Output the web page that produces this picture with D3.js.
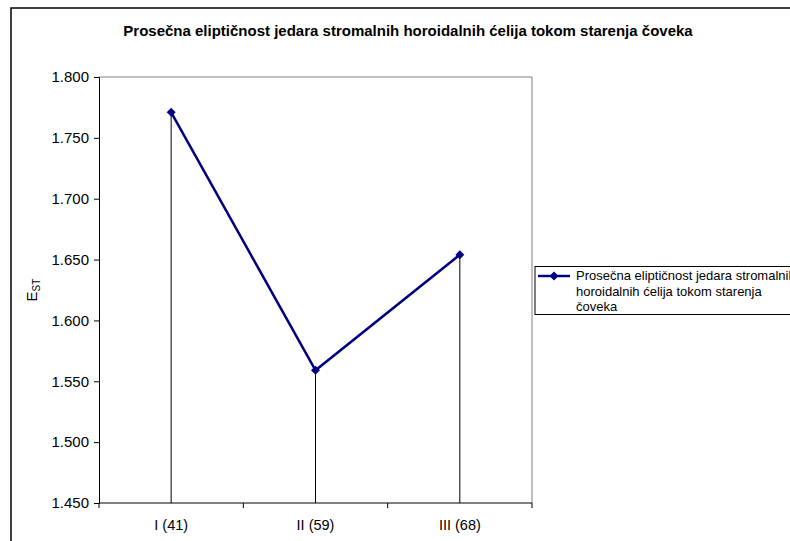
<!DOCTYPE html>
<html>
<head>
<meta charset="utf-8">
<script src="https://cdn.jsdelivr.net/npm/d3@7"></script>
<style>
  html, body { margin: 0; padding: 0; background: #fff; overflow: hidden; }
  svg { display: block; font-family: Arial, "Liberation Sans", sans-serif; }
</style>
</head>
<body>
<svg id="chart" width="790" height="541"></svg>
<script>
const categories = ["I (41)", "II (59)", "III (68)"];
const values = [1.771, 1.559, 1.654];
const yTicks = [1.450, 1.500, 1.550, 1.600, 1.650, 1.700, 1.750, 1.800];
const titleText = "Prosečna eliptičnost jedara stromalnih horoidalnih ćelija tokom starenja čoveka";
const seriesName = ["Prosečna eliptičnost jedara stromalnih", "horoidalnih ćelija tokom starenja", "čoveka"];

const svg = d3.select("#chart");
const plot = { left: 99, right: 532, top: 77, bottom: 503 };
const FONT = "Arial, 'Liberation Sans', sans-serif";

// outer frame (clipped at right/bottom)
svg.append("rect").attr("x", 11).attr("y", 8).attr("width", 800).attr("height", 560)
  .attr("fill", "#fff").attr("stroke", "#000").attr("stroke-width", 1.5);

// title
svg.append("text").attr("x", 408).attr("y", 36).attr("text-anchor", "middle")
  .attr("font-weight", "bold").attr("font-size", 15).attr("fill", "#000").text(titleText);

const x = d3.scaleBand().domain(categories).range([plot.left, plot.right]);
const y = d3.scaleLinear().domain([1.45, 1.8]).range([plot.bottom, plot.top]);

// plot area border top/right gray
svg.append("path")
  .attr("d", `M${plot.left},${plot.top}H${plot.right}V${plot.bottom}`)
  .attr("fill", "none").attr("stroke", "#808080").attr("stroke-width", 1);

// y axis
const yAxis = d3.axisLeft(y).tickValues(yTicks).tickFormat(d3.format(".3f")).tickSize(5).tickPadding(5);
const gy = svg.append("g").attr("transform", `translate(${plot.left},0)`).call(yAxis);
gy.select(".domain").attr("stroke", "#000");
gy.selectAll(".tick line").attr("stroke", "#000");
gy.selectAll("text").attr("font-size", 15).attr("fill", "#000").attr("font-family", FONT);

// x axis with ticks at band boundaries
const xAxis = d3.axisBottom(x).tickSize(0).tickPadding(17);
const gx = svg.append("g").attr("transform", `translate(0,${plot.bottom})`).call(xAxis);
gx.select(".domain").remove();
gx.selectAll("text").attr("font-size", 14.5).attr("fill", "#000").attr("font-family", FONT);
const bounds = categories.map(c => x(c)).concat([x(categories[categories.length - 1]) + x.bandwidth()]);
svg.append("g").selectAll("line").data(bounds).join("line")
  .attr("x1", d => d).attr("x2", d => d).attr("y1", plot.bottom).attr("y2", plot.bottom + 5)
  .attr("stroke", "#000");
svg.append("line").attr("x1", plot.left).attr("x2", plot.right).attr("y1", plot.bottom).attr("y2", plot.bottom)
  .attr("stroke", "#000");

// drop lines
const cx = c => x(c) + x.bandwidth() / 2;
svg.append("g").selectAll("line").data(categories).join("line")
  .attr("x1", cx).attr("x2", cx)
  .attr("y1", (c, i) => y(values[i])).attr("y2", plot.bottom)
  .attr("stroke", "#000").attr("stroke-width", 1);

// series line
const pts = categories.map((c, i) => [cx(c), y(values[i])]);
svg.append("path").attr("d", d3.line()(pts)).attr("fill", "none")
  .attr("stroke", "#000080").attr("stroke-width", 2.5);
svg.append("g").selectAll("path").data(pts).join("path")
  .attr("d", d3.symbol().type(d3.symbolSquare).size(40))
  .attr("transform", d => `translate(${d[0]},${d[1]}) rotate(45)`)
  .attr("fill", "#000080");

// y label
const yl = svg.append("text").attr("transform", "translate(37,290) rotate(-90)")
  .attr("text-anchor", "middle").attr("font-size", 15).attr("fill", "#000");
yl.append("tspan").text("E");
yl.append("tspan").attr("font-size", 10).attr("dy", 3).text("ST");

// legend
svg.append("rect").attr("x", 535).attr("y", 266.5).attr("width", 300).attr("height", 48)
  .attr("fill", "#fff").attr("stroke", "#000").attr("stroke-width", 1);
svg.append("line").attr("x1", 538).attr("x2", 570).attr("y1", 276).attr("y2", 276)
  .attr("stroke", "#000080").attr("stroke-width", 2.5);
svg.append("path").attr("d", d3.symbol().type(d3.symbolSquare).size(40))
  .attr("transform", "translate(554,276) rotate(45)").attr("fill", "#000080");
svg.append("g").selectAll("text").data(seriesName).join("text")
  .attr("x", 576).attr("y", (d, i) => 280 + i * 15.5)
  .attr("font-size", 13).attr("fill", "#000").text(d => d);
</script>
</body>
</html>
